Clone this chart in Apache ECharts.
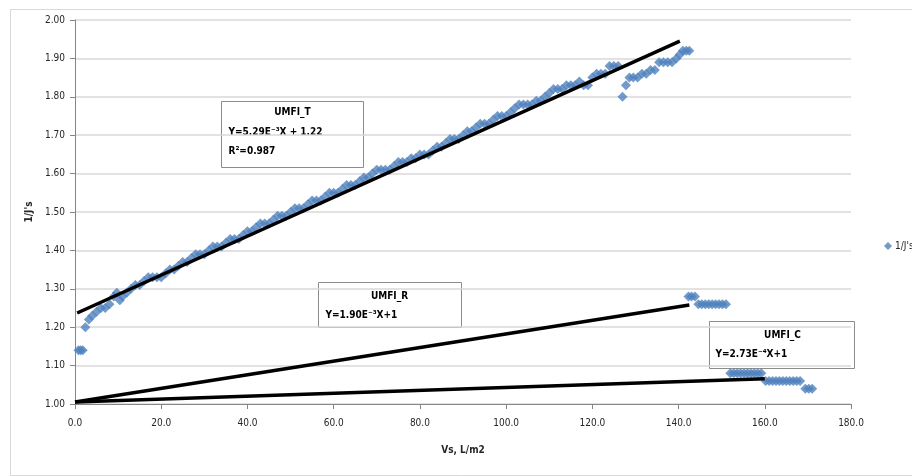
<!DOCTYPE html>
<html>
<head>
<meta charset="utf-8">
<script src="https://cdn.jsdelivr.net/npm/echarts@6/dist/echarts.min.js"></script>
<style>
html,body{margin:0;padding:0;background:#fff;}
#chart{width:912px;height:476px;}
</style>
</head>
<body>
<div id="chart"></div>
<script>
// ---- Data ----
// UMFI_T segment
var tX = [0.8,1.3,1.8,2.4,3.2,4,5,6,7,8,9,9.7,10.4,11,12,13,14,15,16,17,18,19,20,21,22,23,24,25,26,27,28,29,30,31,32,33,34,35,36,37,38,39,40,41,42,43,44,45,46,47,48,49,50,51,52,53,54,55,56,57,58,59,60,61,62,63,64,65,66,67,68,69,70,71,72,73,74,75,76,77,78,79,80,81,82,83,84,85,86,87,88,89,90,91,92,93,94,95,96,97,98,99,100,101,102,103,104,105,106,107,108,109,110,111,112,113,114,115,116,117,118,119,120,121,122,123,124,125,126,127,127.8,128.6,129.5,130.5,131.5,132.5,133.5,134.5,135.5,136.5,137.5,138.5,139.5,140.3,141,141.8,142.5];
var tY = [1.14,1.14,1.14,1.20,1.22,1.23,1.24,1.25,1.25,1.26,1.28,1.29,1.27,1.28,1.29,1.30,1.31,1.31,1.32,1.33,1.33,1.33,1.33,1.34,1.35,1.35,1.36,1.37,1.37,1.38,1.39,1.39,1.39,1.40,1.41,1.41,1.41,1.42,1.43,1.43,1.43,1.44,1.45,1.45,1.46,1.47,1.47,1.47,1.48,1.49,1.49,1.49,1.50,1.51,1.51,1.51,1.52,1.53,1.53,1.53,1.54,1.55,1.55,1.55,1.56,1.57,1.57,1.57,1.58,1.59,1.59,1.60,1.61,1.61,1.61,1.61,1.62,1.63,1.63,1.63,1.64,1.64,1.65,1.65,1.65,1.66,1.67,1.67,1.68,1.69,1.69,1.69,1.70,1.71,1.71,1.72,1.73,1.73,1.73,1.74,1.75,1.75,1.75,1.76,1.77,1.78,1.78,1.78,1.78,1.79,1.79,1.80,1.81,1.82,1.82,1.82,1.83,1.83,1.83,1.84,1.83,1.83,1.85,1.86,1.86,1.86,1.88,1.88,1.88,1.80,1.83,1.85,1.85,1.85,1.86,1.86,1.87,1.87,1.89,1.89,1.89,1.89,1.90,1.91,1.92,1.92,1.92];
// UMFI_R segment
var rX = [142.3,143,143.8,144.6,145.4,146.2,147,147.8,148.6,149.4,150.2,151];
var rY = [1.28,1.28,1.28,1.26,1.26,1.26,1.26,1.26,1.26,1.26,1.26,1.26];
// UMFI_C segment
var cX = [152,152.8,153.6,154.4,155.2,156,156.8,157.6,158.4,159.2,160.2,161,161.8,162.6,163.4,164.2,165,165.8,166.6,167.4,168.2,169.4,170.2,171];
var cY = [1.08,1.08,1.08,1.08,1.08,1.08,1.08,1.08,1.08,1.08,1.06,1.06,1.06,1.06,1.06,1.06,1.06,1.06,1.06,1.06,1.06,1.04,1.04,1.04];
// Trend lines (endpoints)
var trendTX = [0.5,140.3], trendTY = [1.237,1.945];
var trendRX = [0,142.5],   trendRY = [1.005,1.258];
var trendCX = [0,160],     trendCY = [1.005,1.066];
// Axis ticks
var xTicks = {min:0,max:180,interval:20};
var yTicks = {min:1,max:2,interval:0.1};
var seriesName = "1/J's";

function pairs(xs, ys){ return xs.map(function(x,i){ return [x, ys[i]]; }); }
var points = pairs(tX,tY).concat(pairs(rX,rY)).concat(pairs(cX,cY));

var FONT = "'Liberation Sans Narrow','DejaVu Sans Condensed','Liberation Sans',sans-serif";
var chart = echarts.init(document.getElementById('chart'));

function trend(xs, ys){
  return {type:'line', data:pairs(xs,ys), symbol:'none', silent:true, z:5,
          lineStyle:{color:'#000',width:3.5}, legendHoverLink:false, animation:false};
}

chart.setOption({
  animation:false,
  backgroundColor:'#fff',
  textStyle:{fontFamily:FONT},
  grid:{left:75,right:61,top:20,bottom:72},
  legend:{data:[seriesName], left:879, top:236, itemWidth:8, itemHeight:8, itemGap:4,
          icon:'diamond', textStyle:{fontSize:10,color:'#262626',fontFamily:FONT,padding:[0,0,0,-2]}},
  xAxis:{type:'value', min:xTicks.min, max:xTicks.max, interval:xTicks.interval,
    name:'Vs, L/m2', nameLocation:'middle', nameGap:41,
    nameTextStyle:{fontSize:10,color:'#262626',fontWeight:'bold',fontFamily:FONT},
    axisLine:{show:true,onZero:false,lineStyle:{color:'#868686',width:1}},
    axisTick:{show:true,length:5,lineStyle:{color:'#868686'}},
    axisLabel:{fontSize:10,color:'#262626',margin:14,formatter:function(v){return v.toFixed(1);}},
    splitLine:{show:false}},
  yAxis:{type:'value', min:yTicks.min, max:yTicks.max, interval:yTicks.interval,
    name:"1/J's", nameLocation:'middle', nameGap:37, nameRotate:90,
    nameTextStyle:{fontSize:10,color:'#262626',fontWeight:'bold',fontFamily:FONT},
    axisLine:{show:true,lineStyle:{color:'#868686',width:1}},
    axisTick:{show:true,length:5,lineStyle:{color:'#868686'}},
    axisLabel:{fontSize:10,color:'#262626',margin:10,formatter:function(v){return v.toFixed(2);}},
    splitLine:{show:true,lineStyle:{color:'#d9d9d9',width:1.5}}},
  series:[
    {name:seriesName, type:'scatter', data:points, symbol:'diamond', symbolSize:10, z:3,
     itemStyle:{color:'#4f81bd'}},
    trend(trendTX,trendTY),
    trend(trendRX,trendRY),
    trend(trendCX,trendCY)
  ],
  graphic:[
    {type:'rect', left:8, top:7, shape:{width:906,height:466}, silent:true, z:-1,
     style:{fill:'none',stroke:'#d9d9d9',lineWidth:1}},
    {type:'group', left:221, top:101, z:100, children:[
      {type:'rect', shape:{width:142,height:66}, style:{fill:'#fff',stroke:'#8c8c8c',lineWidth:1}},
      {type:'text', x:71, y:6, style:{text:'UMFI_T',font:'bold 10px '+FONT,fill:'#000',textAlign:'center'}},
      {type:'text', x:7, y:26, style:{text:'Y=5.29E\u207B\u00B3X + 1.22',font:'bold 10px '+FONT,fill:'#000'}},
      {type:'text', x:7, y:45, style:{text:'R\u00B2=0.987',font:'bold 10px '+FONT,fill:'#000'}}
    ]},
    {type:'group', left:318, top:282, z:100, children:[
      {type:'rect', shape:{width:143,height:45}, style:{fill:'#fff',stroke:'#8c8c8c',lineWidth:1}},
      {type:'text', x:71, y:9, style:{text:'UMFI_R',font:'bold 10px '+FONT,fill:'#000',textAlign:'center'}},
      {type:'text', x:7, y:28, style:{text:'Y=1.90E\u207B\u00B3X+1',font:'bold 10px '+FONT,fill:'#000'}}
    ]},
    {type:'group', left:709, top:321, z:100, children:[
      {type:'rect', shape:{width:145,height:47}, style:{fill:'#fff',stroke:'#8c8c8c',lineWidth:1}},
      {type:'text', x:73, y:9, style:{text:'UMFI_C',font:'bold 10px '+FONT,fill:'#000',textAlign:'center'}},
      {type:'text', x:6, y:28, style:{text:'Y=2.73E\u207B\u2074X+1',font:'bold 10px '+FONT,fill:'#000'}}
    ]}
  ]
});
</script>
</body>
</html>
